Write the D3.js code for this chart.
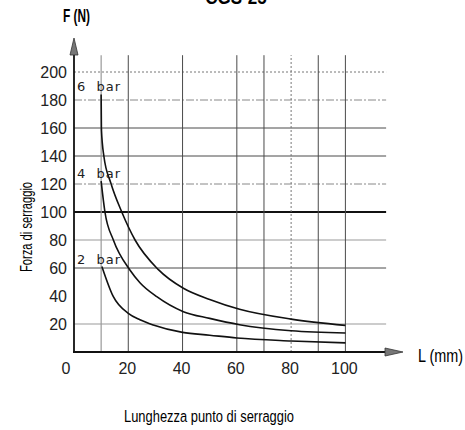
<!DOCTYPE html>
<html>
<head>
<meta charset="utf-8">
<script src="https://cdn.jsdelivr.net/npm/d3@7"></script>
<style>
  body { margin: 0; background: #fff; }
  svg { display: block; }
  .tick-label { font-family: "Liberation Sans", Arial, sans-serif; font-size: 16px; fill: #222; }
  .cond { font-family: "Liberation Sans", Arial, sans-serif; fill: #000; }
  .bar-label { font-family: "DejaVu Sans", sans-serif; font-size: 13px; fill: #222; letter-spacing: 1px; white-space: pre; }
</style>
</head>
<body>
<div id="chart"></div>
<script>
// tick values
const yTicks = [20, 40, 60, 80, 100, 120, 140, 160, 180, 200];
const xTicks = [0, 20, 40, 60, 80, 100];

// grid lines (value, style)
const hGrid = [
  { v: 200, kind: 'dotted' },
  { v: 180, kind: 'dashdot' },
  { v: 160, kind: 'solid' },
  { v: 140, kind: 'solid' },
  { v: 120, kind: 'dashdot' },
  { v: 100, kind: 'thick' },
  { v: 80, kind: 'light' },
  { v: 60, kind: 'solid' },
  { v: 20, kind: 'light' }
];
const vGrid = [
  { v: 10, kind: 'light' },
  { v: 20, kind: 'solid' },
  { v: 40, kind: 'solid' },
  { v: 60, kind: 'solid' },
  { v: 70, kind: 'solid' },
  { v: 80, kind: 'dotted' },
  { v: 90, kind: 'solid' },
  { v: 100, kind: 'solid' }
];

// curves: clamping force F (N) vs length L (mm)
const series = ['6 bar', '4 bar', '2 bar'];
const lenValues = [
  [10, 10.1, 11, 13.6, 17.6, 22.5, 31, 40.3, 50, 61, 80, 100],
  [10, 11.4, 14.5, 20.6, 24.3, 30.5, 40.3, 50, 61, 80, 100],
  [10.3, 14.5, 20, 24.3, 29.2, 40, 50, 60, 80, 100]
];
const forceValues = [
  [184, 159, 140, 120.5, 100, 80, 59, 45.5, 37.5, 30.5, 23.5, 19],
  [122, 100, 80, 58.6, 49.5, 39.5, 28.8, 24, 19.5, 15.2, 13.6],
  [61, 39.5, 27.6, 23, 19.3, 14, 12, 10, 7.9, 6.5]
];

const width = 465;
const height = 430;

const xScale = d3.scaleLinear().domain([0, 100]).range([74, 345.4]);
const yScale = d3.scaleLinear().domain([0, 200]).range([352, 72]);

const svg = d3.select('#chart')
  .append('svg')
  .attr('width', width)
  .attr('height', height);

// condensed text helper: squeeze horizontally with a scale transform
function condText(str, x, y, size, sx, opts = {}) {
  const t = svg.append('text')
    .attr('class', 'cond')
    .attr('transform', `translate(${x},${y})${opts.rotate ? ' rotate(-90)' : ''} scale(${sx},1)`)
    .attr('text-anchor', opts.anchor || 'start')
    .style('font-size', size + 'px')
    .text(str);
  if (opts.bold) t.style('font-weight', 'bold');
  return t;
}

// title (cut at the top edge, as in the source)
condText('CGS-25', 236, 4, 20, 0.85, { anchor: 'middle', bold: true });

// grid
const gridStyle = {
  solid: { stroke: '#4a4a4a', w: 1, dash: null },
  light: { stroke: '#999', w: 1.2, dash: null },
  thick: { stroke: '#111', w: 1.8, dash: null },
  dotted: { stroke: '#777', w: 1, dash: '2,2' },
  dashdot: { stroke: '#888', w: 1, dash: '8,2,2,2' }
};

const gridEndX = xScale(115);
const gridTopY = yScale(212);

svg.append('g')
  .selectAll('line')
  .data(hGrid)
  .join('line')
  .attr('x1', xScale(0))
  .attr('x2', gridEndX)
  .attr('y1', (d) => yScale(d.v))
  .attr('y2', (d) => yScale(d.v))
  .attr('stroke', (d) => gridStyle[d.kind].stroke)
  .attr('stroke-width', (d) => gridStyle[d.kind].w)
  .attr('stroke-dasharray', (d) => gridStyle[d.kind].dash);

svg.append('g')
  .selectAll('line')
  .data(vGrid)
  .join('line')
  .attr('x1', (d) => xScale(d.v))
  .attr('x2', (d) => xScale(d.v))
  .attr('y1', yScale(0))
  .attr('y2', gridTopY)
  .attr('stroke', (d) => gridStyle[d.kind].stroke)
  .attr('stroke-width', (d) => gridStyle[d.kind].w)
  .attr('stroke-dasharray', (d) => gridStyle[d.kind].dash);

// axes lines with arrow heads
const x0 = xScale(0);
const y0 = yScale(0);
svg.append('line')
  .attr('x1', x0).attr('x2', x0)
  .attr('y1', y0 + 1).attr('y2', 48)
  .attr('stroke', '#111').attr('stroke-width', 1.8);
svg.append('line')
  .attr('x1', x0 - 1).attr('x2', 390)
  .attr('y1', y0).attr('y2', y0)
  .attr('stroke', '#111').attr('stroke-width', 2);

svg.append('path')
  .attr('d', `M${x0},38 L${x0 - 4},55 L${x0 + 4},55 Z`)
  .attr('fill', '#777').attr('stroke', '#333').attr('stroke-width', 0.8);
svg.append('path')
  .attr('d', `M403,${y0} L385,${y0 - 4} L385,${y0 + 4} Z`)
  .attr('fill', '#777').attr('stroke', '#333').attr('stroke-width', 0.8);

// tick labels
svg.append('g')
  .selectAll('text')
  .data(yTicks)
  .join('text')
  .attr('class', 'tick-label')
  .attr('x', x0 - 7)
  .attr('y', (d) => yScale(d))
  .attr('dy', '0.36em')
  .attr('text-anchor', 'end')
  .text((d) => d);

svg.append('g')
  .selectAll('text')
  .data(xTicks)
  .join('text')
  .attr('class', 'tick-label')
  .attr('x', (d) => xScale(d) + (d === 0 ? -8 : -1))
  .attr('y', 374)
  .attr('text-anchor', 'middle')
  .text((d) => d);

// curves
const line = d3.line()
  .x((d) => xScale(d[0]))
  .y((d) => yScale(d[1]))
  .curve(d3.curveMonotoneX);

series.forEach((name, i) => {
  const pts = lenValues[i].map((l, j) => [l, forceValues[i][j]]);
  svg.append('path')
    .attr('d', line(pts))
    .attr('fill', 'none')
    .attr('stroke', '#111')
    .attr('stroke-width', 1.6);

  svg.append('text')
    .attr('class', 'bar-label')
    .attr('x', x0 + 3)
    .attr('y', yScale(forceValues[i][0]) - 3)
    .text(name.replace(' ', '  '));
});

// axis titles
condText('F (N)', 63, 22, 18, 0.66, { bold: true });
condText('Forza di serraggio', 32, 227, 16, 0.7, { anchor: 'middle', rotate: true });
condText('L (mm)', 418, 362, 18, 0.8);
condText('Lunghezza punto di serraggio', 124, 422, 17, 0.76);
</script>
</body>
</html>
